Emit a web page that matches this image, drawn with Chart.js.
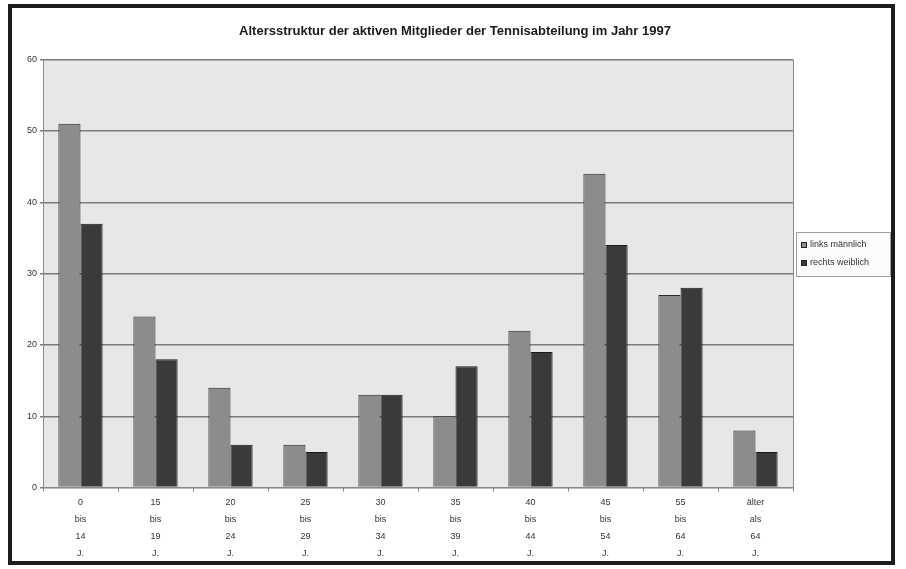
<!DOCTYPE html>
<html>
<head>
<meta charset="utf-8">
<script src="https://cdn.jsdelivr.net/npm/chart.js@4"></script>
<style>
  html, body { margin: 0; padding: 0; background: #fff; }
  #wrap { width: 906px; height: 569px; }
</style>
</head>
<body>
<div id="wrap"><canvas id="chart" width="906" height="569"></canvas></div>
<script>
// Chart data
const categories = [
    ['0', 'bis', '14', 'J.'],
    ['15', 'bis', '19', 'J.'],
    ['20', 'bis', '24', 'J.'],
    ['25', 'bis', '29', 'J.'],
    ['30', 'bis', '34', 'J.'],
    ['35', 'bis', '39', 'J.'],
    ['40', 'bis', '44', 'J.'],
    ['45', 'bis', '54', 'J.'],
    ['55', 'bis', '64', 'J.'],
    ['älter', 'als', '64', 'J.']
];
const maennlich = [51, 24, 14, 6, 13, 10, 22, 44, 27, 8];
const weiblich = [37, 18, 6, 5, 13, 17, 19, 34, 28, 5];
const seriesNames = ['links männlich', 'rechts weiblich'];
const yTicks = [0, 10, 20, 30, 40, 50, 60];

const FONT = 'Arial, "Liberation Sans", sans-serif';

// grey plot area + outer frame
const backdrop = {
    id: 'backdrop',
    beforeDraw(chart) {
        const { ctx, chartArea: a } = chart;
        ctx.save();
        ctx.fillStyle = '#e7e7e7';
        ctx.fillRect(a.left, a.top, a.right - a.left, a.bottom - a.top);
        ctx.restore();
    },
    afterDraw(chart) {
        const { ctx, chartArea: a } = chart;
        ctx.save();
        ctx.strokeStyle = '#8a8a8a';
        ctx.lineWidth = 1;
        ctx.beginPath();
        ctx.moveTo(a.right + 0.5, a.top);
        ctx.lineTo(a.right + 0.5, a.bottom);
        ctx.stroke();
        ctx.strokeStyle = '#1c1c1c';
        ctx.lineWidth = 4;
        ctx.strokeRect(10, 6, 883, 557);
        ctx.restore();
    }
};

// Excel style boxed legend on the right
const boxLegend = {
    id: 'boxLegend',
    afterDraw(chart) {
        const { ctx } = chart;
        const x = 796, y = 232, w = 94, h = 44;
        ctx.save();
        ctx.fillStyle = '#fbfbfb';
        ctx.fillRect(x, y, w, h);
        ctx.strokeStyle = '#a0a0a0';
        ctx.lineWidth = 1;
        ctx.strokeRect(x + 0.5, y + 0.5, w, h);
        ctx.font = '9px ' + FONT;
        ctx.textBaseline = 'middle';
        chart.data.datasets.forEach((ds, i) => {
            const ly = y + 13 + i * 18;
            ctx.fillStyle = ds.backgroundColor;
            ctx.fillRect(x + 5, ly - 3, 6, 6);
            ctx.strokeStyle = '#222';
            ctx.strokeRect(x + 5.5, ly - 2.5, 5, 5);
            ctx.fillStyle = '#333';
            ctx.fillText(ds.label, x + 14, ly);
        });
        ctx.restore();
    }
};

new Chart(document.getElementById('chart'), {
    type: 'bar',
    data: {
        labels: categories,
        datasets: [{
            label: seriesNames[0],
            data: maennlich,
            backgroundColor: '#8c8c8c',
            borderColor: '#2a2a2a',
            borderWidth: 1
        }, {
            label: seriesNames[1],
            data: weiblich,
            backgroundColor: '#3a3a3a',
            borderColor: '#1a1a1a',
            borderWidth: 1
        }]
    },
    options: {
        responsive: false,
        animation: false,
        categoryPercentage: 0.59,
        barPercentage: 1.0,
        layout: {
            padding: { top: 24, left: 10, right: 6, bottom: 5 }
        },
        plugins: {
            legend: { display: false },
            tooltip: { enabled: false },
            title: {
                display: true,
                text: 'Altersstruktur der aktiven Mitglieder der Tennisabteilung im Jahr 1997',
                color: '#1a1a1a',
                font: { family: FONT, size: 13, weight: 'bold' },
                padding: { top: 0, bottom: 20 }
            }
        },
        scales: {
            x: {
                grid: {
                    offset: true,
                    drawOnChartArea: false,
                    color: '#8a8a8a',
                    tickLength: 4
                },
                border: { color: '#8a8a8a' },
                ticks: {
                    color: '#333',
                    padding: 2,
                    maxRotation: 0,
                    autoSkip: false,
                    font: { family: FONT, size: 9, lineHeight: 1.9 }
                }
            },
            y: {
                min: 0,
                max: 60,
                afterBuildTicks(scale) {
                    scale.ticks = yTicks.map(v => ({ value: v }));
                },
                afterFit(scale) {
                    scale.width = 33;
                },
                grid: {
                    color: '#7a7a7a',
                    lineWidth: 1.5,
                    tickLength: 3
                },
                border: { color: '#8a8a8a' },
                ticks: {
                    color: '#333',
                    padding: 3,
                    font: { family: FONT, size: 9 }
                }
            },
            // empty axis that only reserves the room for the legend box
            legendSpace: {
                position: 'right',
                min: 0,
                max: 60,
                afterFit(scale) {
                    scale.width = 107;
                },
                grid: { display: false },
                border: { display: false },
                ticks: { display: false }
            }
        }
    },
    plugins: [backdrop, boxLegend]
});
</script>
</body>
</html>
